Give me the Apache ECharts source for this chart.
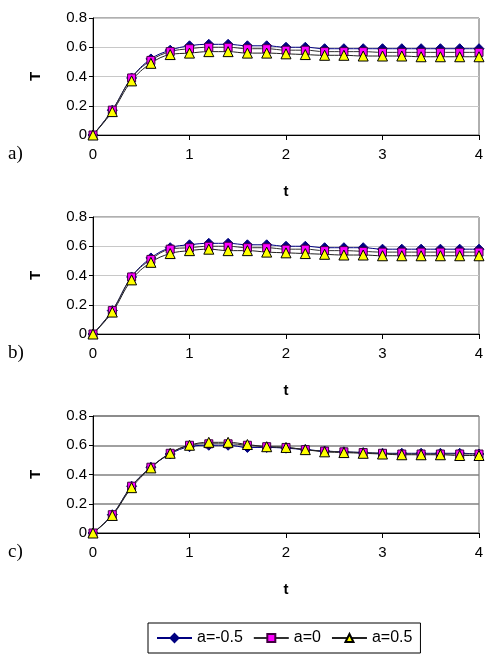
<!DOCTYPE html>
<html>
<head>
<meta charset="utf-8">
<script src="https://cdn.jsdelivr.net/npm/echarts@6/dist/echarts.min.js"></script>
<style>
  html, body { margin: 0; padding: 0; background: #fff; }
  #chart { width: 490px; height: 654px; }
</style>
</head>
<body>
<div id="chart"></div>
<script>
// time steps
var tValues = [0, 0.2, 0.4, 0.6, 0.8, 1.0, 1.2, 1.4, 1.6, 1.8, 2.0, 2.2, 2.4, 2.6, 2.8, 3.0, 3.2, 3.4, 3.6, 3.8, 4.0];

// panel a)
var aNeg05 = [0, 0.17, 0.39, 0.52, 0.58, 0.61, 0.62, 0.62, 0.61, 0.61, 0.60, 0.60, 0.59, 0.59, 0.59, 0.59, 0.59, 0.59, 0.59, 0.59, 0.59];
var aZero = [0, 0.17, 0.39, 0.51, 0.57, 0.59, 0.60, 0.60, 0.59, 0.59, 0.58, 0.58, 0.57, 0.57, 0.57, 0.565, 0.565, 0.565, 0.565, 0.565, 0.565];
var aPos05 = [0, 0.16, 0.37, 0.49, 0.55, 0.56, 0.57, 0.57, 0.56, 0.56, 0.555, 0.55, 0.545, 0.545, 0.54, 0.54, 0.54, 0.535, 0.535, 0.535, 0.535];

// panel b)
var bNeg05 = [0, 0.16, 0.39, 0.52, 0.59, 0.61, 0.62, 0.62, 0.61, 0.61, 0.60, 0.60, 0.59, 0.59, 0.59, 0.58, 0.58, 0.58, 0.58, 0.58, 0.58];
var bZero = [0, 0.16, 0.39, 0.51, 0.58, 0.59, 0.60, 0.60, 0.59, 0.59, 0.58, 0.58, 0.57, 0.57, 0.565, 0.56, 0.56, 0.56, 0.56, 0.56, 0.56];
var bPos05 = [0, 0.15, 0.37, 0.49, 0.55, 0.57, 0.58, 0.57, 0.57, 0.56, 0.555, 0.55, 0.545, 0.54, 0.54, 0.535, 0.535, 0.535, 0.535, 0.535, 0.535];

// panel c)
var cNeg05 = [0, 0.125, 0.32, 0.45, 0.54, 0.59, 0.60, 0.60, 0.585, 0.585, 0.58, 0.57, 0.56, 0.555, 0.55, 0.545, 0.545, 0.545, 0.545, 0.545, 0.54];
var cZero = [0, 0.125, 0.32, 0.45, 0.545, 0.60, 0.61, 0.61, 0.60, 0.59, 0.585, 0.57, 0.56, 0.555, 0.55, 0.545, 0.54, 0.54, 0.54, 0.54, 0.54];
var cPos05 = [0, 0.12, 0.31, 0.445, 0.545, 0.60, 0.62, 0.62, 0.605, 0.59, 0.585, 0.57, 0.555, 0.55, 0.545, 0.54, 0.535, 0.535, 0.535, 0.53, 0.53];

var seriesNames = ['a=-0.5', 'a=0', 'a=0.5'];
var panelLabels = ['a)', 'b)', 'c)'];
var panels = [[aNeg05, aZero, aPos05], [bNeg05, bZero, bPos05], [cNeg05, cZero, cPos05]];

(function() {
    var myChart = echarts.init(document.getElementById('chart'));

    var gridTops = [18, 217, 416];
    var gridColors = ['#c8c8c8', '#c8c8c8', '#808080'];
    var font = 'Liberation Sans, Arial, sans-serif';

    var markers = [
        { symbol: 'diamond', size: 10, color: '#000080', border: '#000080', line: '#000080' },
        { symbol: 'rect', size: 8, color: '#ff00ff', border: '#400040', line: '#303030' },
        { symbol: 'triangle', size: 10, color: '#ffff00', border: '#000000', line: '#202020' }
    ];

    function pairs(ys) {
        return tValues.map(function(t, i) { return [t, ys[i]]; });
    }

    var grids = [], xAxes = [], yAxes = [], series = [], graphics = [];
    gridTops.forEach(function(top, p) {
        grids.push({ left: 93, top: top, width: 386, height: 117, show: true, borderColor: '#606060', borderWidth: 1 });
        xAxes.push({
            gridIndex: p, type: 'value', min: 0, max: 4, interval: 1,
            name: 't', nameLocation: 'middle', nameGap: 49,
            nameTextStyle: { fontFamily: font, fontSize: 15, fontWeight: 'bold', color: '#000' },
            axisLine: { lineStyle: { color: '#000', width: 1 } },
            axisTick: { show: true, length: 5, lineStyle: { color: '#000' } },
            axisLabel: { fontFamily: font, fontSize: 15, color: '#000', margin: 12 },
            splitLine: { show: false }
        });
        yAxes.push({
            gridIndex: p, type: 'value', min: 0, max: 0.8, interval: 0.2,
            name: 'T', nameLocation: 'middle', nameGap: 50, nameRotate: 90,
            nameTextStyle: { fontFamily: font, fontSize: 15, fontWeight: 'bold', color: '#000' },
            axisLine: { show: true, lineStyle: { color: '#000', width: 1 } },
            axisTick: { show: true, length: 4, lineStyle: { color: '#000' } },
            axisLabel: { fontFamily: font, fontSize: 15, color: '#000', margin: 6 },
            splitLine: { show: true, lineStyle: { color: gridColors[p], width: p == 2 ? 1.5 : 1 } }
        });
        panels[p].forEach(function(ys, s) {
            var m = markers[s];
            series.push({
                name: seriesNames[s], type: 'line', smooth: 0.4,
                xAxisIndex: p, yAxisIndex: p,
                data: pairs(ys),
                symbol: m.symbol, symbolSize: m.size, showAllSymbol: true,
                itemStyle: { color: m.color, borderColor: m.border, borderWidth: 1 },
                lineStyle: { color: m.line, width: 1 },
                emphasis: { disabled: true },
                animation: false
            });
        });
        // panel letter
        graphics.push({
            type: 'text', left: 8, top: top + 127,
            style: { text: panelLabels[p], font: '19px Liberation Serif, Times New Roman, serif', fill: '#000' }
        });
    });

    var option = {
        animation: false,
        grid: grids,
        xAxis: xAxes,
        yAxis: yAxes,
        series: series,
        graphic: graphics,
        legend: {
            data: seriesNames,
            left: 148, top: 623,
            orient: 'horizontal',
            itemWidth: 35, itemHeight: 10, itemGap: 10,
            padding: [7, 8],
            borderColor: '#000', borderWidth: 1,
            textStyle: { fontFamily: font, fontSize: 16, color: '#000' }
        }
    };
    myChart.setOption(option);
})();
</script>
</body>
</html>
